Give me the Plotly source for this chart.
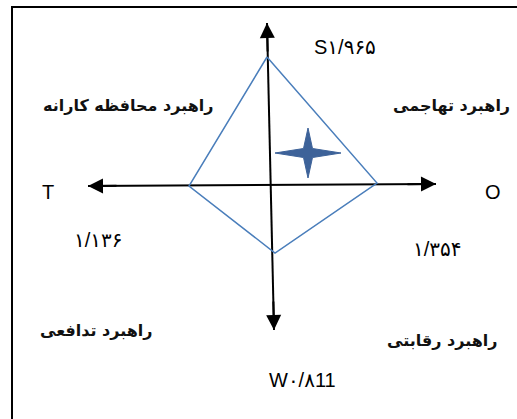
import numpy as np
import plotly.graph_objects as go

# diagram coordinates: origin where the two axes cross (units ~ pixels)
axis_v_x = [-3, 4]          # top tip, bottom tip
axis_v_y = [162, -145]
axis_h_x = [-182, 166]      # left tip (T), right tip (O)
axis_h_y = [-1, 1]

diamond_names = ["S", "O", "W", "T"]
diamond_x = [-3, 107, 5, -81]
diamond_y = [128, 2, -68, -1]

score_text = ["S۱/۹۶۵", "۱/۳۵۴", "W۰/۸11", "۱/۱۳۶"]
score_x = [75, 167, 32, -172]
score_y = [138, -64, -195, -55]

pole_text = ["T", "O"]
pole_x = [-222, 223]
pole_y = [-7, -7]

strategy_text = ["راهبرد تهاجمی", "راهبرد محافظه کارانه", "راهبرد تدافعی", "راهبرد رقابتی"]
strategy_x = [181, -142, -174, 172]
strategy_y = [80, 80, -145, -155]

star_center = (38, 32)
star_half_w, star_half_h, star_inner = 33, 25, 9

fig = go.Figure()

# axes
for xs, ys in [(axis_v_x, axis_v_y), (axis_h_x, axis_h_y)]:
    fig.add_trace(go.Scatter(x=xs, y=ys, mode="lines",
                             line=dict(color="black", width=2),
                             hoverinfo="skip", showlegend=False))

# diamond
fig.add_trace(go.Scatter(
    x=diamond_x + diamond_x[:1], y=diamond_y + diamond_y[:1],
    mode="lines", line=dict(color="#4a7ebb", width=1.5),
    hoverinfo="skip", showlegend=False))

# four-point star
ang = np.arange(8) * np.pi / 4
rx = np.where(np.arange(8) % 2 == 0, star_half_w, star_inner * 0.7071)
ry = np.where(np.arange(8) % 2 == 0, star_half_h, star_inner * 0.7071)
sx = star_center[0] + rx * np.cos(ang)
sy = star_center[1] + ry * np.sin(ang)
fig.add_trace(go.Scatter(
    x=list(sx) + [sx[0]], y=list(sy) + [sy[0]],
    mode="lines", fill="toself", fillcolor="#3d6299",
    line=dict(color="#3d6299", width=1),
    hoverinfo="skip", showlegend=False))

# arrow heads at each axis tip
ends = [(axis_v_x[0], axis_v_y[0], axis_v_x[1], axis_v_y[1]),
        (axis_v_x[1], axis_v_y[1], axis_v_x[0], axis_v_y[0]),
        (axis_h_x[0], axis_h_y[0], axis_h_x[1], axis_h_y[1]),
        (axis_h_x[1], axis_h_y[1], axis_h_x[0], axis_h_y[0])]
for tx, ty, ox, oy in ends:
    d = np.hypot(ox - tx, oy - ty)
    bx = tx + (ox - tx) * 30 / d
    by = ty + (oy - ty) * 30 / d
    fig.add_annotation(x=tx, y=ty, ax=bx, ay=by, xref="x", yref="y",
                       axref="x", ayref="y", text="", showarrow=True,
                       arrowhead=2, arrowsize=1.5, arrowwidth=2,
                       arrowcolor="black")

for t, x, y in zip(score_text, score_x, score_y):
    fig.add_annotation(x=x, y=y, text=t, showarrow=False,
                       font=dict(family="Liberation Sans, DejaVu Sans", size=20, color="black"))

for t, x, y in zip(pole_text, pole_x, pole_y):
    fig.add_annotation(x=x, y=y, text=t, showarrow=False,
                       font=dict(family="Liberation Sans, Arial", size=20, color="black"))

for t, x, y in zip(strategy_text, strategy_x, strategy_y):
    fig.add_annotation(x=x, y=y, text="<b>" + t + "</b>", showarrow=False,
                       font=dict(family="DejaVu Sans", size=16, color="#111111"))

# frame (left and top edges visible, the rest runs off the picture)
fig.add_shape(type="rect", xref="paper", yref="paper",
              x0=12 / 517, y0=-0.05, x1=1.05, y1=1 - 7 / 419,
              line=dict(color="black", width=2))

fig.update_layout(
    width=517, height=419,
    margin=dict(l=0, r=0, t=0, b=0),
    paper_bgcolor="white", plot_bgcolor="white",
    xaxis=dict(range=[-270, 247], visible=False, fixedrange=True),
    yaxis=dict(range=[-234, 185], visible=False, fixedrange=True),
)

fig.write_html("out.html", config={"displayModeBar": False},
               post_script="document.body.style.margin='0';")
